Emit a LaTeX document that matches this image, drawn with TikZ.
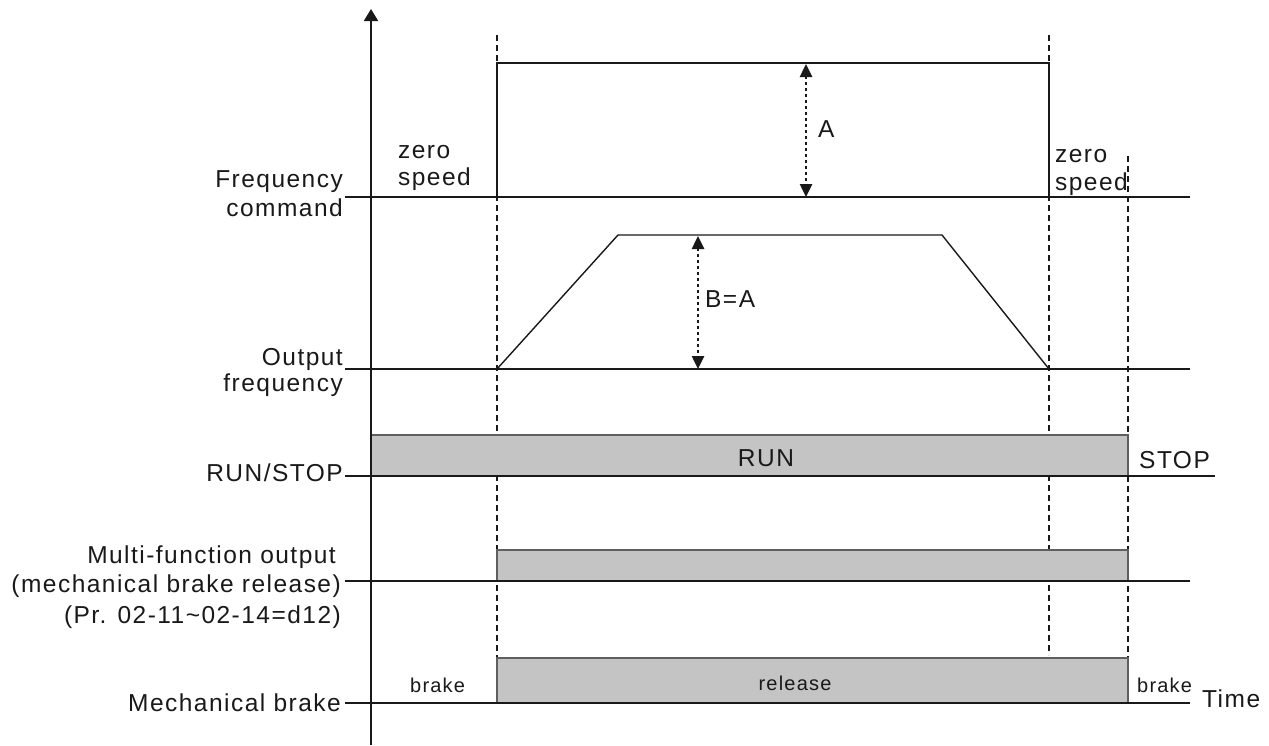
\documentclass[tikz,border=0pt]{standalone}
\usepackage{fontspec}
\setmainfont{Liberation Sans}[LetterSpace=6]
\usetikzlibrary{arrows.meta}
\definecolor{ink}{RGB}{25,25,25}
\definecolor{boxfill}{RGB}{196,196,196}
\definecolor{edge}{RGB}{95,95,95}
\tikzset{
  lbl/.style={inner sep=0pt, font=\fontsize{24.5}{29}\selectfont, text=ink},
  small/.style={inner sep=0pt, font=\fontsize{20}{24}\selectfont, text=ink},
  sig/.style={draw=ink, line width=1.4pt},
  guide/.style={draw=ink, line width=2.4pt, dash pattern=on 6pt off 4pt},
  axisline/.style={draw=ink, line width=2pt, -{Triangle[length=12pt,width=14pt]}},
  meas/.style={draw=ink, line width=2.5pt, dash pattern=on 2.5pt off 3.5pt,
    {Triangle[length=13pt,width=12pt]}-{Triangle[length=13pt,width=12pt]}},
  bar/.style={fill=boxfill, draw=edge, line width=1.2pt},
}
\begin{document}
\begin{tikzpicture}[x=1pt,y=-1pt]
\useasboundingbox (0,0) rectangle (1269,745);
% key coordinates
\coordinate (ax0) at (371,745);
\coordinate (ax1) at (371,9);
\coordinate (d1a) at (497,35);   \coordinate (d1b) at (497,703);
\coordinate (d2a) at (1049,35);  \coordinate (d2b) at (1049,655);
\coordinate (d3a) at (1128,156); \coordinate (d3b) at (1128,703);
% guides
\draw[guide] (d1a) -- (d1b);
\draw[guide] (d2a) -- (d2b);
\draw[guide] (d3a) -- (d3b);
% bars
\draw[bar] (371,435) rectangle (1128,476);
\draw[bar] (497,550) rectangle (1128,581);
\draw[bar] (497,658) rectangle (1128,703);
% frequency command
\coordinate (fcL) at (345,197); \coordinate (fcR) at (1190,197);
\coordinate (fc1) at (497,197); \coordinate (fc2) at (497,63);
\coordinate (fc3) at (1049,63); \coordinate (fc4) at (1049,197);
\draw[sig] (fcL) -- (fcR);
\draw[sig] (fc1) -- (fc2) -- (fc3) -- (fc4);
% output frequency
\coordinate (ofL) at (345,369); \coordinate (ofR) at (1190,369);
\coordinate (of1) at (497,369); \coordinate (of2) at (618,235);
\coordinate (of3) at (942,235); \coordinate (of4) at (1049,369);
\draw[sig] (ofL) -- (ofR);
\draw[sig] (of1) -- (of2) -- (of3) -- (of4);
% run/stop
\coordinate (rsL) at (345,476); \coordinate (rsR) at (1215,476);
\draw[sig] (rsL) -- (rsR);
% multi-function
\coordinate (mfL) at (345,581); \coordinate (mfR) at (1190,581);
\draw[sig] (mfL) -- (mfR);
% mechanical brake
\coordinate (mbL) at (345,703); \coordinate (mbR) at (1190,703);
\draw[sig] (mbL) -- (mbR);
% axis
\draw[axisline] (ax0) -- (ax1);
% measurement arrows
\coordinate (aT) at (806,64); \coordinate (aB) at (806,197);
\draw[meas] (aT) -- (aB);
\coordinate (bT) at (698,236); \coordinate (bB) at (698,369);
\draw[meas] (bT) -- (bB);
% labels
\node[lbl, anchor=base east] (tfc1) at (343,187) {Frequency};
\node[lbl, anchor=base east] (tfc2) at (343,216) {command};
\node[lbl, anchor=base west] (tzs1) at (398,158) {zero};
\node[lbl, anchor=base west] (tzs2) at (398,185) {speed};
\node[lbl, anchor=base west] (tzs3) at (1055,162) {zero};
\node[lbl, anchor=base west] (tzs4) at (1055,190) {speed};
\node[lbl, anchor=base west] (ta) at (818,137) {A};
\node[lbl, anchor=base west] (tb) at (705,307) {B=A};
\node[lbl, anchor=base east] (tof1) at (343,365) {Output};
\node[lbl, anchor=base east] (tof2) at (343,391) {frequency};
\node[lbl, anchor=base east] (trs) at (343,481) {RUN/STOP};
\node[lbl, anchor=base] (trun) at (766,466) {RUN};
\node[lbl, anchor=base west] (tstop) at (1139,468) {STOP};
\node[lbl, anchor=base east] (tmf1) at (336,563) {Multi-function output};
\node[lbl, anchor=base east] (tmf2) at (341,592) {(mechanical brake release)};
\node[lbl, anchor=base east] (tmf3) at (341,623) {(Pr. 02-11\textasciitilde 02-14=d12)};
\node[lbl, anchor=base east] (tmb) at (341,711) {Mechanical brake};
\node[small, anchor=base west] (tbk1) at (410,692) {brake};
\node[small, anchor=base] (trel) at (795,690) {release};
\node[small, anchor=base west] (tbk2) at (1137,692) {brake};
\node[lbl, anchor=base west] (ttime) at (1202,707) {Time};
\end{tikzpicture}
\end{document}
